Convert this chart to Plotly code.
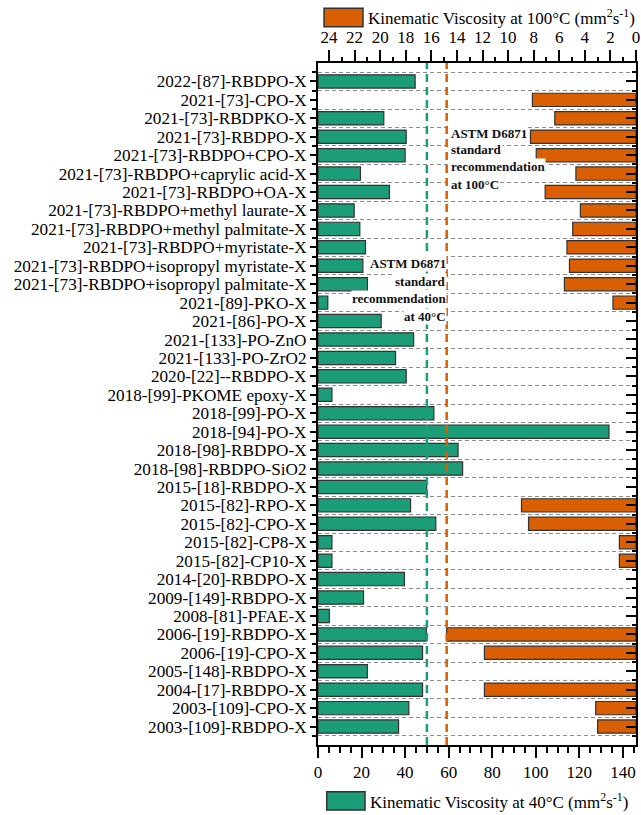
import plotly.graph_objects as go

categories = [
    "2022-[87]-RBDPO-X", "2021-[73]-CPO-X", "2021-[73]-RBDPKO-X", "2021-[73]-RBDPO-X",
    "2021-[73]-RBDPO+CPO-X", "2021-[73]-RBDPO+caprylic acid-X", "2021-[73]-RBDPO+OA-X",
    "2021-[73]-RBDPO+methyl laurate-X", "2021-[73]-RBDPO+methyl palmitate-X",
    "2021-[73]-RBDPO+myristate-X", "2021-[73]-RBDPO+isopropyl myristate-X",
    "2021-[73]-RBDPO+isopropyl palmitate-X", "2021-[89]-PKO-X", "2021-[86]-PO-X",
    "2021-[133]-PO-ZnO", "2021-[133]-PO-ZrO2", "2020-[22]--RBDPO-X", "2018-[99]-PKOME epoxy-X",
    "2018-[99]-PO-X", "2018-[94]-PO-X", "2018-[98]-RBDPO-X", "2018-[98]-RBDPO-SiO2",
    "2015-[18]-RBDPO-X", "2015-[82]-RPO-X", "2015-[82]-CPO-X", "2015-[82]-CP8-X",
    "2015-[82]-CP10-X", "2014-[20]-RBDPO-X", "2009-[149]-RBDPO-X", "2008-[81]-PFAE-X",
    "2006-[19]-RBDPO-X", "2006-[19]-CPO-X", "2005-[148]-RBDPO-X", "2004-[17]-RBDPO-X",
    "2003-[109]-CPO-X", "2003-[109]-RBDPO-X",
]

visc40 = [44.6, None, 30.2, 40.5, 40.0, 19.5, 32.8, 16.6, 19.2, 21.8, 20.6, 22.7, 4.5,
          29.0, 43.9, 35.6, 40.5, 6.4, 53.2, 133.6, 64.3, 66.4, 49.9, 42.5, 54.1, 6.4,
          6.4, 39.7, 20.9, 5.2, 49.7, 48.0, 22.7, 48.0, 41.7, 37.0]

visc100 = [None, 8.1, 6.35, 8.25, 7.8, 4.7, 7.1, 4.35, 4.95, 5.4, 5.2, 5.6, 1.8,
           None, None, None, None, None, None, None, None, None, None, 8.95, 8.4, 1.3,
           1.3, None, None, None, 14.8, 11.85, None, 11.85, 3.15, 3.0]

astm_40 = 50
astm_100 = 14.8

x40_ticks = [0, 20, 40, 60, 80, 100, 120, 140]
x100_ticks = [24, 22, 20, 18, 16, 14, 12, 10, 8, 6, 4, 2, 0]

label_40 = "Kinematic Viscosity at 40°C (mm<sup>2</sup>s<sup>-1</sup>)"
label_100 = "Kinematic Viscosity at 100°C (mm<sup>2</sup>s<sup>-1</sup>)"
note_100 = ["ASTM D6871", "standard", "recommendation", "at 100°C"]
note_40 = ["ASTM D6871", "standard", "recommendation", "at 40°C"]

GREEN = "#1b9e77"
ORANGE = "#d95f02"
EDGE = "#333333"
FONT = "Liberation Serif, Times New Roman, serif"

ypos = list(range(len(categories)))

fig = go.Figure()
fig.add_trace(go.Bar(
    y=ypos, x=visc40, orientation="h", width=0.72,
    marker=dict(color=GREEN, line=dict(color=EDGE, width=1.2)),
    name=label_40, xaxis="x", yaxis="y", showlegend=False,
))
fig.add_trace(go.Bar(
    y=ypos, x=visc100, orientation="h", width=0.72,
    marker=dict(color=ORANGE, line=dict(color=EDGE, width=1.2)),
    name=label_100, xaxis="x2", yaxis="y2", showlegend=False,
))

# ASTM reference lines
fig.add_shape(type="line", xref="x", yref="paper", x0=astm_40, x1=astm_40, y0=0, y1=1,
              line=dict(color=GREEN, width=2.5, dash="8px,5px"), layer="above")
fig.add_shape(type="line", xref="x2", yref="paper", x0=astm_100, x1=astm_100, y0=0, y1=1,
              line=dict(color=ORANGE, width=2.5, dash="8px,5px"), layer="above")

# annotations, one per line so that each has its own white box
for txt, yy in zip(note_100, [2.82, 3.7, 4.6, 5.57]):
    fig.add_annotation(xref="x", yref="y", x=60.6, y=yy, xanchor="left", yanchor="middle",
                       align="left", showarrow=False, bgcolor="white", borderpad=0,
                       text=f"<b>{txt}</b>", font=dict(family=FONT, size=13, color="#111111"))
for txt, yy in zip(note_40, [9.88, 10.84, 11.76, 12.73]):
    fig.add_annotation(xref="x", yref="y", x=59.4, y=yy, xanchor="right", yanchor="middle",
                       align="right", showarrow=False, bgcolor="white", borderpad=0,
                       text=f"<b>{txt}</b>", font=dict(family=FONT, size=13, color="#111111"))

# legends (swatch + text)
fig.add_shape(type="rect", xref="paper", yref="paper", x0=0.019, x1=0.1415,
              y0=1.0532, y1=1.0802, fillcolor=ORANGE, line=dict(color=EDGE, width=1.5))
fig.add_annotation(xref="paper", yref="paper", x=0.152, y=1.0674, xanchor="left",
                   yanchor="middle", showarrow=False, text=label_100,
                   font=dict(family=FONT, size=17, color="black"))
fig.add_shape(type="rect", xref="paper", yref="paper", x0=0.0274, x1=0.1478,
              y0=-0.0953, y1=-0.0685, fillcolor=GREEN, line=dict(color=EDGE, width=1.5))
fig.add_annotation(xref="paper", yref="paper", x=0.158, y=-0.0814, xanchor="left",
                   yanchor="middle", showarrow=False, text=label_40,
                   font=dict(family=FONT, size=17, color="black"))

yrange = [36, -1]
fig.update_layout(
    width=641, height=815,
    margin=dict(l=318, r=5, t=63, b=70, autoexpand=False),
    paper_bgcolor="white", plot_bgcolor="white",
    font=dict(family=FONT, size=16, color="black"),
    barmode="overlay",
    showlegend=False,
    xaxis=dict(
        range=[0, 146], tickvals=x40_ticks, ticks="outside", ticklen=11, tickwidth=2,
        tickcolor="black", showline=True, linecolor="black", linewidth=2,
        showgrid=False, zeroline=False, side="bottom",
        minor=dict(dtick=5, tick0=0, ticks="outside", ticklen=6, tickwidth=2,
                   tickcolor="black", showgrid=False),
        tickfont=dict(family=FONT, size=17),
    ),
    xaxis2=dict(
        range=[24.86, 0], tickvals=x100_ticks, ticks="outside", ticklen=11, tickwidth=2,
        tickcolor="black", showline=True, linecolor="black", linewidth=2,
        showgrid=False, zeroline=False, side="top", overlaying="x", anchor="y2",
        minor=dict(dtick=1, tick0=0, ticks="outside", ticklen=4, tickwidth=2,
                   tickcolor="black", showgrid=False),
        tickfont=dict(family=FONT, size=17),
    ),
    yaxis=dict(
        range=yrange, tickvals=ypos, ticktext=categories, ticks="outside", ticklen=6,
        tickwidth=2, tickcolor="black", showline=True, linecolor="black", linewidth=2,
        showgrid=False, zeroline=False,
        minor=dict(dtick=1, tick0=0.5, ticks="outside", ticklen=4, tickwidth=2,
                   tickcolor="black", showgrid=True, gridcolor="#8c8c8c",
                   griddash="4px,3px", gridwidth=1),
        tickfont=dict(family=FONT, size=17.2),
    ),
    yaxis2=dict(
        range=yrange, tickvals=ypos, ticks="inside", ticklen=10, tickwidth=2,
        tickcolor="black", showline=True, linecolor="black", linewidth=2,
        showticklabels=False, showgrid=False, zeroline=False,
        overlaying="y", side="right", anchor="x2",
        minor=dict(dtick=1, tick0=0.5, ticks="inside", ticklen=4, tickwidth=2,
                   tickcolor="black", showgrid=False),
    ),
)

fig.write_html("out.html", config={"displayModeBar": False},
               post_script="document.body.style.margin='0';document.body.style.overflow='hidden';")
